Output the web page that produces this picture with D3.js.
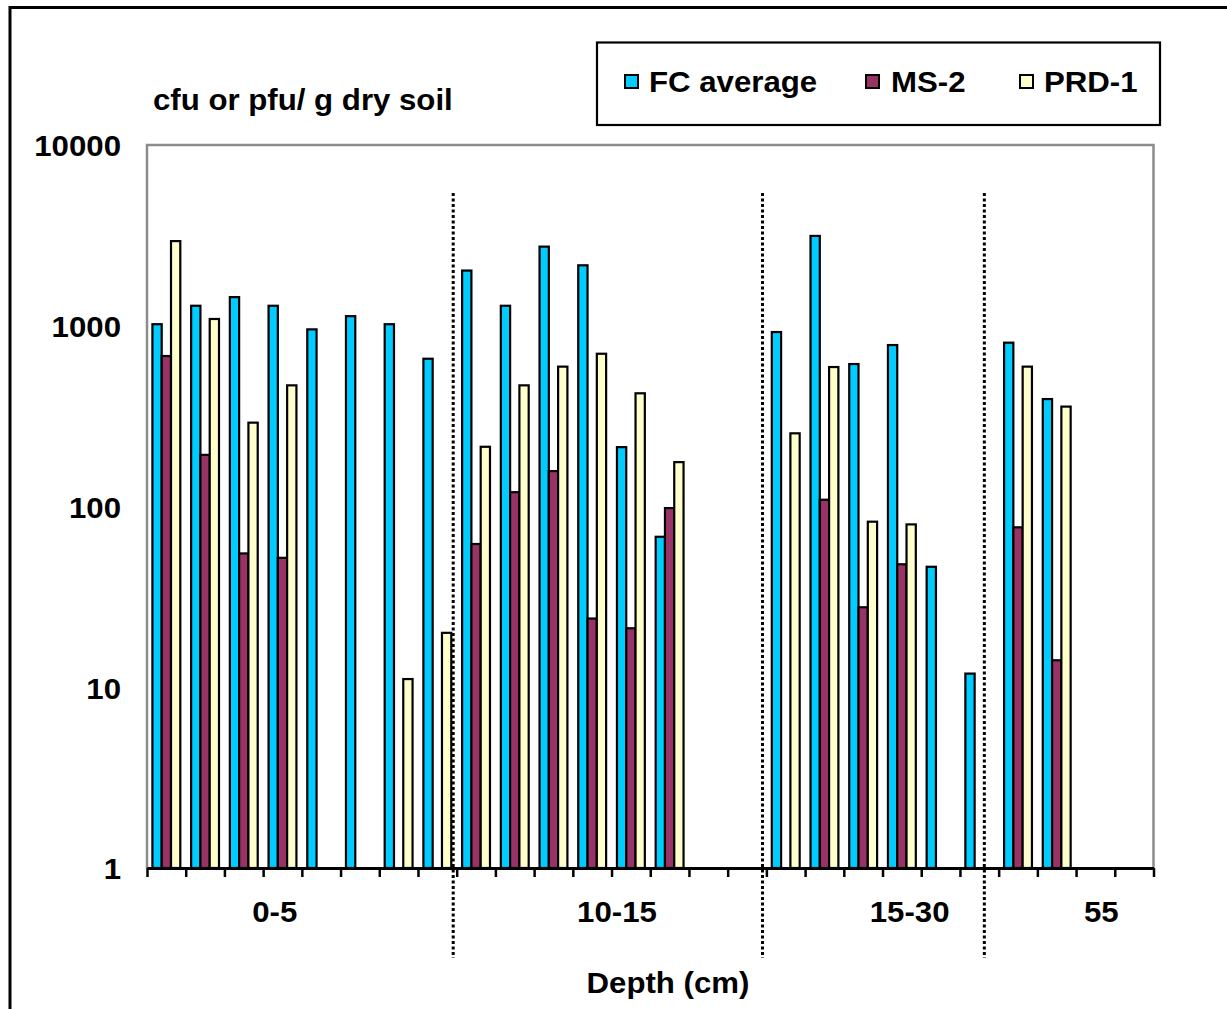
<!DOCTYPE html>
<html>
<head>
<meta charset="utf-8">
<script src="https://cdn.jsdelivr.net/npm/d3@7"></script>
<style>
  html, body { margin: 0; padding: 0; background: #fff; }
  svg { display: block; }
  text { font-family: "Liberation Sans", Arial, sans-serif; font-weight: bold; fill: #000; }
</style>
</head>
<body>
<svg id="chart" width="1227" height="1009"></svg>
<script>
// ---- data ---------------------------------------------------------------
// 26 soil samples in sampling order; null = not detected
const samples = d3.range(1, 27);
const seriesNames = ["FC average", "MS-2", "PRD-1"];
const depthLabels = ["0-5", "10-15", "15-30", "55"];
const yTickValues = [1, 10, 100, 1000, 10000];

const fcAverage = [1020, 1290, 1440, 1290, 955, 1130, 1020, 657,
                   2020, 1290, 2740, 2160, 213, 68, null, null,
                   923, 3140, 614, 782, 46.4, 11.9,
                   806, 393, null, null];
const ms2       = [680, 193, 55, 52, null, null, null, null,
                   62, 120, 157, 24, 21.2, 98, null, null,
                   null, 109, 27.7, 47.9, null, null,
                   76.7, 14.1, null, null];
const prd1      = [2940, 1090, 291, 468, null, null, 11.1, 20,
                   214, 468, 594, 700, 423, 176, null, null,
                   254, 591, 82.4, 79.6, null, null,
                   594, 357, null, null];

const seriesValues = [fcAverage, ms2, prd1];
const seriesColors = ["#00CCFF", "#993366", "#FFFFCC"];

// ---- layout -------------------------------------------------------------
const plot = { left: 147, right: 1153.5, top: 145, bottom: 868 };
const SX = 1.04;             // horizontal stretch of the lettering
const FONT = 30;
// divider lines and depth captions, in sample units along the axis
const dividerAt = [7.91, 15.9, 21.63];
const depthLabelAt = [3.3, 12.14, 19.7, 24.65];

const svg = d3.select("#chart");

function label(g, x, y, str, anchor, size) {
  return g.append("text")
    .attr("transform", `translate(${x},${y}) scale(${SX},1)`)
    .attr("text-anchor", anchor || "start")
    .style("font-size", (size || FONT) + "px")
    .text(str);
}

// outer frame
svg.append("rect")
  .attr("x", 10).attr("y", 7.5)
  .attr("width", 1240).attr("height", 1020)
  .attr("fill", "none").attr("stroke", "#000").attr("stroke-width", 3);

// ---- scales -------------------------------------------------------------
const x = d3.scaleBand()
  .domain(samples)
  .range([plot.left, plot.right])
  .paddingInner(0.28)
  .paddingOuter(0.14);
const xs = d3.scaleBand().domain(seriesNames).range([0, x.bandwidth()]);
const xUnit = d3.scaleLinear().domain([0, samples.length]).range([plot.left, plot.right]);
const y = d3.scaleLog().domain([1, 10000]).range([plot.bottom, plot.top]);

// plot-area frame (grey)
svg.append("path")
  .attr("d", `M${plot.left},${plot.bottom} V${plot.top} H${plot.right} V${plot.bottom}`)
  .attr("fill", "none").attr("stroke", "#8c8c8c").attr("stroke-width", 2.5);

// ---- bars ---------------------------------------------------------------
seriesNames.forEach((name, si) => {
  const rows = samples
    .map((s, i) => ({ s, v: seriesValues[si][i] }))
    .filter(d => d.v != null);
  svg.append("g").selectAll("rect")
    .data(rows)
    .join("rect")
    .attr("x", d => x(d.s) + xs(name))
    .attr("width", xs.bandwidth())
    .attr("y", d => y(d.v))
    .attr("height", d => y(1) - y(d.v))
    .attr("fill", seriesColors[si])
    .attr("stroke", "#000")
    .attr("stroke-width", 2.2);
});

// ---- depth dividers -----------------------------------------------------
svg.append("g").selectAll("line")
  .data(dividerAt)
  .join("line")
  .attr("x1", d => xUnit(d)).attr("x2", d => xUnit(d))
  .attr("y1", 193).attr("y2", 958)
  .attr("stroke", "#000").attr("stroke-width", 3)
  .attr("stroke-dasharray", "3,2.5");

// ---- axes ---------------------------------------------------------------
const xAxis = svg.append("g")
  .attr("transform", `translate(0,${plot.bottom})`)
  .call(d3.axisBottom(xUnit)
    .tickValues(d3.range(samples.length + 1))
    .tickSize(9).tickSizeOuter(0).tickFormat(""));
xAxis.select(".domain").attr("stroke", "#000").attr("stroke-width", 3);
xAxis.selectAll(".tick line").attr("stroke", "#000").attr("stroke-width", 2.5);

const yAxis = svg.append("g")
  .attr("transform", `translate(${plot.left},0)`)
  .call(d3.axisLeft(y).tickValues(yTickValues).tickSize(0).tickFormat(d3.format("d")));
yAxis.select(".domain").remove();
yAxis.selectAll(".tick text")
  .attr("x", null)
  .attr("dy", "0.36em")
  .attr("text-anchor", "end")
  .attr("transform", `translate(-26,0) scale(${SX},1)`)
  .attr("font-family", null).attr("font-size", null)
  .style("font-size", FONT + "px");

// depth captions under the axis
const cap = svg.append("g");
depthLabels.forEach((d, i) => label(cap, xUnit(depthLabelAt[i]), 922, d, "middle"));

// axis titles
label(svg, 668, 993, "Depth (cm)", "middle");
label(svg, 153, 110, "cfu or pfu/ g dry soil", "start");

// ---- legend ---------------------------------------------------------------
const lg = svg.append("g");
lg.append("rect")
  .attr("x", 597).attr("y", 42.5).attr("width", 563).attr("height", 82.5)
  .attr("fill", "#fff").attr("stroke", "#000").attr("stroke-width", 2.2);
const swatchX = [625, 866, 1020];
const textX = [649, 891, 1044];
seriesNames.forEach((name, i) => {
  lg.append("rect")
    .attr("x", swatchX[i]).attr("y", 75).attr("width", 13).attr("height", 13)
    .attr("fill", seriesColors[i]).attr("stroke", "#000").attr("stroke-width", 2);
  label(lg, textX[i], 92, name, "start");
});
</script>
</body>
</html>
